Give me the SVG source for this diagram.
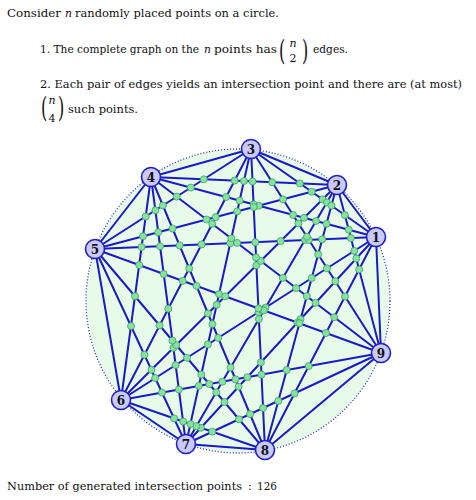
<svg xmlns="http://www.w3.org/2000/svg" width="476" height="500" viewBox="0 0 476 500">
<style>
text{font-family:'DejaVu Serif','Liberation Serif',serif;fill:#111}
.t{font-size:10.8px}
.i{font-size:10.8px;font-style:italic}
.s{font-size:11px;text-anchor:middle}
.e line{stroke:#1a1ac8;stroke-width:2;stroke-linecap:round}
.x circle{fill:#86e39a;stroke:#3d9c78;stroke-width:0.8}
.n circle{fill:#c9c9fb;stroke:#2020c0;stroke-width:1.6}
.n text{font-weight:bold;font-size:12px;text-anchor:middle}
.p{font-size:16px}
</style>
<rect width="476" height="500" fill="#ffffff"/>
<text class="t" x="7" y="17" textLength="54" lengthAdjust="spacingAndGlyphs">Consider</text>
<text class="i" x="65" y="17">n</text>
<text class="t" x="75" y="17" textLength="204" lengthAdjust="spacingAndGlyphs">randomly placed points on a circle.</text>
<text class="t" x="40" y="53" textLength="159" lengthAdjust="spacingAndGlyphs">1. The complete graph on the</text>
<text class="i" x="204" y="53">n</text>
<text class="t" x="214" y="53" textLength="63" lengthAdjust="spacingAndGlyphs">points has</text>
<text class="p" transform="translate(279,60) scale(1,1.75)">(</text>
<text class="s" x="293" y="47" font-style="italic">n</text>
<text class="s" x="293" y="62">2</text>
<text class="p" transform="translate(302,60) scale(1,1.75)">)</text>
<text class="t" x="313" y="53" textLength="35" lengthAdjust="spacingAndGlyphs">edges.</text>
<text class="t" x="40" y="88" textLength="284" lengthAdjust="spacingAndGlyphs">2. Each pair of edges yields an intersection point</text>
<text class="t" x="328" y="88" textLength="134" lengthAdjust="spacingAndGlyphs">and there are (at most)</text>
<text class="p" transform="translate(41,117) scale(1,1.75)">(</text>
<text class="s" x="52" y="104" font-style="italic">n</text>
<text class="s" x="52" y="122">4</text>
<text class="p" transform="translate(58,117) scale(1,1.75)">)</text>
<text class="t" x="68" y="113" textLength="70" lengthAdjust="spacingAndGlyphs">such points.</text>
<text class="t" x="7" y="490" textLength="235" lengthAdjust="spacingAndGlyphs">Number of generated intersection points</text>
<text class="t" x="248" y="490">:</text>
<text class="t" x="257" y="490" textLength="20" lengthAdjust="spacingAndGlyphs">126</text>
<circle cx="238" cy="301" r="152" fill="#e8fbe8" stroke="#2a2ad0" stroke-width="1.3" stroke-dasharray="1 2"/>
<g id="connectors" class="e">
<line x1="376" y1="237" x2="337" y2="185"/><line x1="376" y1="237" x2="251" y2="149"/><line x1="376" y1="237" x2="151" y2="177"/><line x1="376" y1="237" x2="95" y2="249"/><line x1="376" y1="237" x2="121" y2="400"/><line x1="376" y1="237" x2="186" y2="444"/><line x1="376" y1="237" x2="265" y2="450"/><line x1="376" y1="237" x2="381" y2="353"/>
<line x1="337" y1="185" x2="251" y2="149"/><line x1="337" y1="185" x2="151" y2="177"/><line x1="337" y1="185" x2="95" y2="249"/><line x1="337" y1="185" x2="121" y2="400"/><line x1="337" y1="185" x2="186" y2="444"/><line x1="337" y1="185" x2="265" y2="450"/><line x1="337" y1="185" x2="381" y2="353"/>
<line x1="251" y1="149" x2="151" y2="177"/><line x1="251" y1="149" x2="95" y2="249"/><line x1="251" y1="149" x2="121" y2="400"/><line x1="251" y1="149" x2="186" y2="444"/><line x1="251" y1="149" x2="265" y2="450"/><line x1="251" y1="149" x2="381" y2="353"/>
<line x1="151" y1="177" x2="95" y2="249"/><line x1="151" y1="177" x2="121" y2="400"/><line x1="151" y1="177" x2="186" y2="444"/><line x1="151" y1="177" x2="265" y2="450"/><line x1="151" y1="177" x2="381" y2="353"/>
<line x1="95" y1="249" x2="121" y2="400"/><line x1="95" y1="249" x2="186" y2="444"/><line x1="95" y1="249" x2="265" y2="450"/><line x1="95" y1="249" x2="381" y2="353"/>
<line x1="121" y1="400" x2="186" y2="444"/><line x1="121" y1="400" x2="265" y2="450"/><line x1="121" y1="400" x2="381" y2="353"/>
<line x1="186" y1="444" x2="265" y2="450"/><line x1="186" y1="444" x2="381" y2="353"/>
<line x1="265" y1="450" x2="381" y2="353"/>
</g>
<g id="intersections" class="x">
<circle cx="299.9" cy="183.4" r="3.5"/><circle cx="311.7" cy="191.7" r="3.5"/><circle cx="258.7" cy="205.7" r="3.5"/><circle cx="322.6" cy="199.4" r="3.5"/><circle cx="304.0" cy="217.8" r="3.5"/><circle cx="280.7" cy="241.1" r="3.5"/><circle cx="326.9" cy="202.4" r="3.5"/><circle cx="316.0" cy="221.0" r="3.5"/><circle cx="304.9" cy="240.0" r="3.5"/><circle cx="265.5" cy="307.6" r="3.5"/>
<circle cx="331.4" cy="205.6" r="3.5"/><circle cx="326.5" cy="223.8" r="3.5"/><circle cx="322.2" cy="239.3" r="3.5"/><circle cx="311.7" cy="278.1" r="3.5"/><circle cx="300.5" cy="319.2" r="3.5"/><circle cx="344.9" cy="215.1" r="3.5"/><circle cx="348.7" cy="229.7" r="3.5"/><circle cx="350.9" cy="238.1" r="3.5"/><circle cx="354.3" cy="250.9" r="3.5"/><circle cx="356.3" cy="258.5" r="3.5"/>
<circle cx="359.1" cy="269.4" r="3.5"/><circle cx="190.8" cy="187.6" r="3.5"/><circle cx="203.8" cy="179.3" r="3.5"/><circle cx="226.1" cy="197.0" r="3.5"/><circle cx="201.6" cy="244.4" r="3.5"/><circle cx="234.6" cy="180.6" r="3.5"/><circle cx="215.7" cy="217.1" r="3.5"/><circle cx="239.6" cy="200.6" r="3.5"/><circle cx="230.2" cy="243.2" r="3.5"/><circle cx="207.9" cy="344.4" r="3.5"/>
<circle cx="243.9" cy="181.0" r="3.5"/><circle cx="237.2" cy="211.4" r="3.5"/><circle cx="216.7" cy="304.8" r="3.5"/><circle cx="253.6" cy="204.4" r="3.5"/><circle cx="255.3" cy="242.2" r="3.5"/><circle cx="258.6" cy="312.1" r="3.5"/><circle cx="260.9" cy="362.4" r="3.5"/><circle cx="252.5" cy="181.4" r="3.5"/><circle cx="253.7" cy="207.0" r="3.5"/><circle cx="256.4" cy="265.2" r="3.5"/>
<circle cx="258.9" cy="319.0" r="3.5"/><circle cx="293.0" cy="214.9" r="3.5"/><circle cx="308.9" cy="239.9" r="3.5"/><circle cx="327.0" cy="268.3" r="3.5"/><circle cx="335.3" cy="281.3" r="3.5"/><circle cx="345.0" cy="296.5" r="3.5"/><circle cx="272.2" cy="182.2" r="3.5"/><circle cx="283.0" cy="199.3" r="3.5"/><circle cx="298.4" cy="223.4" r="3.5"/><circle cx="306.9" cy="236.7" r="3.5"/>
<circle cx="318.2" cy="254.4" r="3.5"/><circle cx="141.6" cy="247.0" r="3.5"/><circle cx="143.0" cy="236.3" r="3.5"/><circle cx="145.7" cy="216.5" r="3.5"/><circle cx="160.1" cy="246.2" r="3.5"/><circle cx="175.6" cy="365.1" r="3.5"/><circle cx="158.2" cy="232.3" r="3.5"/><circle cx="173.4" cy="347.8" r="3.5"/><circle cx="155.4" cy="210.3" r="3.5"/><circle cx="168.3" cy="308.7" r="3.5"/>
<circle cx="179.6" cy="245.4" r="3.5"/><circle cx="218.2" cy="337.9" r="3.5"/><circle cx="238.6" cy="386.7" r="3.5"/><circle cx="172.5" cy="228.5" r="3.5"/><circle cx="208.0" cy="313.4" r="3.5"/><circle cx="230.6" cy="367.5" r="3.5"/><circle cx="162.9" cy="205.5" r="3.5"/><circle cx="189.2" cy="268.4" r="3.5"/><circle cx="212.4" cy="324.1" r="3.5"/><circle cx="237.2" cy="242.9" r="3.5"/>
<circle cx="296.1" cy="288.1" r="3.5"/><circle cx="315.5" cy="302.9" r="3.5"/><circle cx="334.2" cy="317.2" r="3.5"/><circle cx="206.5" cy="219.5" r="3.5"/><circle cx="260.7" cy="260.9" r="3.5"/><circle cx="282.8" cy="277.9" r="3.5"/><circle cx="306.8" cy="296.2" r="3.5"/><circle cx="176.7" cy="196.6" r="3.5"/><circle cx="212.2" cy="223.9" r="3.5"/><circle cx="231.3" cy="238.4" r="3.5"/>
<circle cx="256.0" cy="257.4" r="3.5"/><circle cx="155.2" cy="378.1" r="3.5"/><circle cx="151.4" cy="369.8" r="3.5"/><circle cx="144.4" cy="354.8" r="3.5"/><circle cx="131.0" cy="326.0" r="3.5"/><circle cx="187.0" cy="357.8" r="3.5"/><circle cx="224.5" cy="402.1" r="3.5"/><circle cx="176.2" cy="345.0" r="3.5"/><circle cx="216.2" cy="392.3" r="3.5"/><circle cx="159.6" cy="325.4" r="3.5"/>
<circle cx="201.3" cy="374.6" r="3.5"/><circle cx="135.0" cy="296.2" r="3.5"/><circle cx="172.4" cy="340.6" r="3.5"/><circle cx="262.1" cy="309.8" r="3.5"/><circle cx="297.4" cy="322.6" r="3.5"/><circle cx="326.0" cy="333.0" r="3.5"/><circle cx="225.2" cy="296.3" r="3.5"/><circle cx="263.9" cy="310.4" r="3.5"/><circle cx="299.4" cy="323.3" r="3.5"/><circle cx="182.7" cy="280.9" r="3.5"/>
<circle cx="219.0" cy="294.1" r="3.5"/><circle cx="258.4" cy="308.4" r="3.5"/><circle cx="139.2" cy="265.1" r="3.5"/><circle cx="163.7" cy="274.0" r="3.5"/><circle cx="196.5" cy="285.9" r="3.5"/><circle cx="200.9" cy="427.8" r="3.5"/><circle cx="196.4" cy="426.2" r="3.5"/><circle cx="190.4" cy="424.1" r="3.5"/><circle cx="183.1" cy="421.5" r="3.5"/><circle cx="174.1" cy="418.4" r="3.5"/>
<circle cx="247.4" cy="377.2" r="3.5"/><circle cx="308.7" cy="366.1" r="3.5"/><circle cx="222.3" cy="381.7" r="3.5"/><circle cx="286.7" cy="370.0" r="3.5"/><circle cx="198.8" cy="385.9" r="3.5"/><circle cx="261.5" cy="374.6" r="3.5"/><circle cx="178.9" cy="389.5" r="3.5"/><circle cx="235.5" cy="379.3" r="3.5"/><circle cx="162.0" cy="392.6" r="3.5"/><circle cx="209.2" cy="384.1" r="3.5"/>
<circle cx="294.5" cy="393.4" r="3.5"/><circle cx="278.3" cy="400.9" r="3.5"/><circle cx="263.0" cy="408.0" r="3.5"/><circle cx="250.0" cy="414.1" r="3.5"/><circle cx="239.0" cy="419.3" r="3.5"/><circle cx="212.3" cy="431.7" r="3.5"/>
</g>
<g id="node1" class="n"><circle cx="376" cy="237" r="9.5"/><text x="376" y="241.5">1</text></g>
<g id="node2" class="n"><circle cx="337" cy="185" r="9.5"/><text x="337" y="189.5">2</text></g>
<g id="node3" class="n"><circle cx="251" cy="149" r="9.5"/><text x="251" y="153.5">3</text></g>
<g id="node4" class="n"><circle cx="151" cy="177" r="9.5"/><text x="151" y="181.5">4</text></g>
<g id="node5" class="n"><circle cx="95" cy="249" r="9.5"/><text x="95" y="253.5">5</text></g>
<g id="node6" class="n"><circle cx="121" cy="400" r="9.5"/><text x="121" y="404.5">6</text></g>
<g id="node7" class="n"><circle cx="186" cy="444" r="9.5"/><text x="186" y="448.5">7</text></g>
<g id="node8" class="n"><circle cx="265" cy="450" r="9.5"/><text x="265" y="454.5">8</text></g>
<g id="node9" class="n"><circle cx="381" cy="353" r="9.5"/><text x="381" y="357.5">9</text></g>
</svg>
